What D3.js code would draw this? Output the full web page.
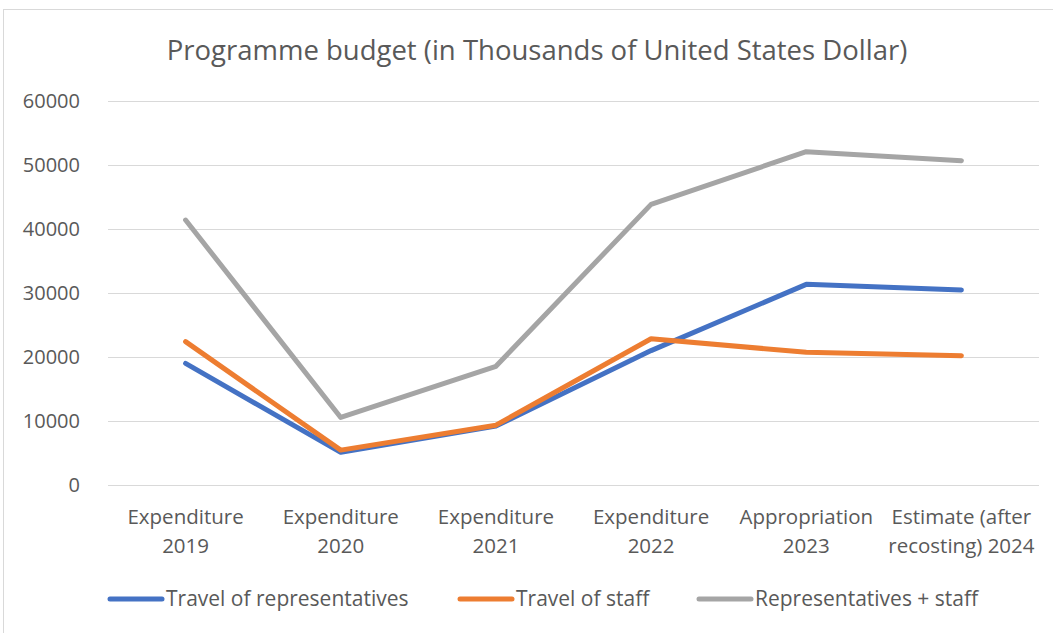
<!DOCTYPE html>
<html>
<head>
<meta charset="utf-8">
<script src="https://cdn.jsdelivr.net/npm/d3@7"></script>
<style>
  html, body { margin: 0; padding: 0; background: #fff; }
  svg { display: block; }
</style>
</head>
<body>
<svg id="chart" width="1053" height="633"></svg>
<script>
// data
const categories = [
    ["Expenditure", "2019"],
    ["Expenditure", "2020"],
    ["Expenditure", "2021"],
    ["Expenditure", "2022"],
    ["Appropriation", "2023"],
    ["Estimate (after", "recosting) 2024"]
];
const representatives = [19000, 5100, 9200, 21000, 31350, 30470];
const staff = [22400, 5450, 9350, 22850, 20730, 20200];
const combined = [41400, 10550, 18550, 43850, 52080, 50670];
const seriesNames = ["Travel of representatives", "Travel of staff", "Representatives + staff"];
const seriesColors = ["#4472C4", "#ED7D31", "#A5A5A5"];
const yTicks = [0, 10000, 20000, 30000, 40000, 50000, 60000];

const font = "'Open Sans', Lato, sans-serif",
    textColor = "#595959";

const svg = d3.select("#chart");
const margin = { left: 108, right: 14, top: 101, bottom: 148 };
const W = 1053, H = 633;

// outer chart border
svg.append("rect")
    .attr("x", 3.5).attr("y", 9.5)
    .attr("width", W + 10).attr("height", H + 10)
    .attr("fill", "#fff").attr("stroke", "#d9d9d9").attr("stroke-width", 1);

const x = d3.scaleBand()
    .domain(d3.range(categories.length))
    .range([margin.left, W - margin.right])
    .paddingInner(0).paddingOuter(0);
const y = d3.scaleLinear().domain([0, 60000]).range([H - margin.bottom, margin.top]);

// title
svg.append("text")
    .attr("x", 537).attr("y", 60)
    .attr("text-anchor", "middle")
    .attr("font-family", font).attr("font-size", "27.5px")
    .attr("fill", textColor)
    .text("Programme budget (in Thousands of United States Dollar)");

// gridlines + y labels
const yAxis = d3.axisLeft(y).tickValues(yTicks)
    .tickSize(-(W - margin.right - margin.left))
    .tickPadding(28)
    .tickFormat(d3.format("d"));
const gy = svg.append("g").attr("transform", `translate(${margin.left},0)`).call(yAxis);
gy.select(".domain").remove();
gy.selectAll(".tick line").attr("stroke", "#d9d9d9").attr("stroke-width", 1);
gy.selectAll(".tick text")
    .attr("font-family", font).attr("font-size", "20px").attr("fill", textColor);

// category labels
const gx = svg.append("g");
categories.forEach((c, i) => {
    const t = gx.append("text")
        .attr("x", x(i) + x.bandwidth() / 2)
        .attr("y", 524)
        .attr("text-anchor", "middle")
        .attr("font-family", font).attr("font-size", "20.5px")
        .attr("fill", textColor);
    c.forEach((line, j) => {
        t.append("tspan").attr("x", x(i) + x.bandwidth() / 2).attr("dy", j ? 29 : 0).text(line);
    });
});

// lines
const allSeries = [representatives, staff, combined];
const line = d3.line()
    .x((d, i) => x(i) + x.bandwidth() / 2)
    .y(d => y(d));
svg.append("g").selectAll("path")
    .data(allSeries)
    .join("path")
    .attr("d", line)
    .attr("fill", "none")
    .attr("stroke", (d, i) => seriesColors[i])
    .attr("stroke-width", 5)
    .attr("stroke-linecap", "round")
    .attr("stroke-linejoin", "round");

// legend
const legendX = [108, 458, 697];
const lg = svg.append("g").selectAll("g")
    .data(seriesNames)
    .join("g")
    .attr("transform", (d, i) => `translate(${legendX[i]},599)`);
lg.append("line")
    .attr("x1", 2).attr("x2", 54)
    .attr("stroke", (d, i) => seriesColors[i])
    .attr("stroke-width", 5).attr("stroke-linecap", "round");
lg.append("text")
    .attr("x", 58).attr("y", 0)
    .attr("dy", "0.35em")
    .attr("font-family", font).attr("font-size", "21px")
    .attr("fill", textColor)
    .text(d => d);
</script>
</body>
</html>
